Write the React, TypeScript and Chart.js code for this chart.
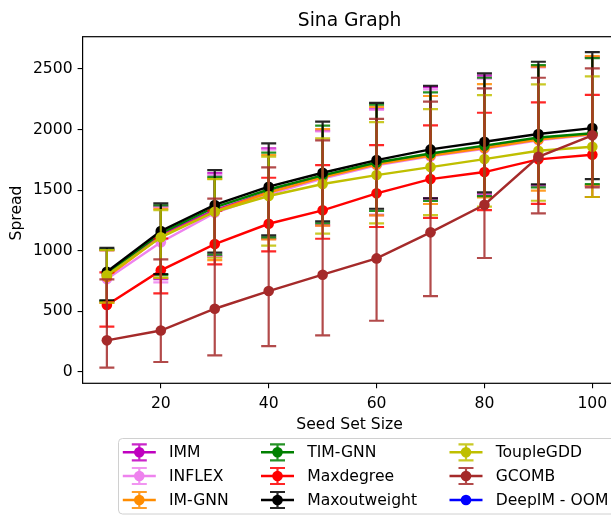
import React, { useEffect, useRef } from 'react';
import { Chart, registerables } from 'chart.js';

Chart.register(...registerables);

// ---------- data ----------
const seedSetSizes = [10, 20, 30, 40, 50, 60, 70, 80, 90, 100];
const xTickValues = [20, 40, 60, 80, 100];
const yTickValues = [0, 500, 1000, 1500, 2000, 2500];

const immMean = [798, 1132, 1335, 1485, 1608, 1716, 1788, 1852, 1922, 1964];
const immLow = [580, 765, 955, 1100, 1210, 1295, 1432, 1465, 1540, 1536];
const immHigh = [1008, 1366, 1640, 1845, 1990, 2168, 2350, 2445, 2518, 2597];

const inflexMean = [765, 1070, 1312, 1465, 1595, 1705, 1778, 1842, 1912, 1958];
const inflexLow = [575, 738, 950, 1095, 1206, 1291, 1425, 1455, 1530, 1536];
const inflexHigh = [1000, 1360, 1625, 1835, 1985, 2164, 2332, 2420, 2514, 2595];

const imgnnMean = [782, 1115, 1325, 1480, 1605, 1712, 1785, 1848, 1918, 1962];
const imgnnLow = [568, 776, 922, 1093, 1206, 1291, 1385, 1440, 1495, 1540];
const imgnnHigh = [1005, 1346, 1595, 1790, 2004, 2188, 2277, 2376, 2520, 2607];

const timgnnMean = [812, 1145, 1358, 1505, 1622, 1728, 1802, 1867, 1934, 1970];
const timgnnLow = [585, 798, 966, 1110, 1226, 1329, 1410, 1451, 1523, 1550];
const timgnnHigh = [1011, 1374, 1610, 1809, 2032, 2205, 2307, 2428, 2533, 2590];

const maxdegreeMean = [551, 837, 1054, 1222, 1333, 1473, 1591, 1649, 1754, 1792];
const maxdegreeLow = [372, 647, 887, 994, 1098, 1195, 1270, 1335, 1387, 1443];
const maxdegreeHigh = [821, 1100, 1330, 1602, 1707, 1872, 2035, 2139, 2225, 2287];

const maxoutweightMean = [826, 1162, 1377, 1528, 1643, 1748, 1836, 1899, 1963, 2012];
const maxoutweightLow = [590, 807, 983, 1126, 1242, 1346, 1432, 1481, 1547, 1591];
const maxoutweightHigh = [1024, 1391, 1665, 1886, 2065, 2221, 2362, 2464, 2560, 2640];

const toupleMean = [796, 1110, 1321, 1451, 1550, 1624, 1690, 1756, 1825, 1858];
const toupleLow = [570, 776, 941, 1041, 1140, 1225, 1294, 1363, 1412, 1443];
const toupleHigh = [1005, 1335, 1591, 1776, 1927, 2062, 2169, 2285, 2373, 2439];

const gcombMean = [259, 340, 520, 666, 801, 936, 1151, 1379, 1775, 1952];
const gcombLow = [33, 80, 135, 212, 300, 421, 625, 939, 1308, 1523];
const gcombHigh = [763, 928, 1429, 1688, 1911, 2089, 2230, 2340, 2428, 2505];

const deepimMean: number[] = [];
const deepimLow: number[] = [];
const deepimHigh: number[] = [];

const seriesNames = ['IMM', 'INFLEX', 'IM-GNN', 'TIM-GNN', 'Maxdegree', 'Maxoutweight', 'ToupleGDD', 'GCOMB', 'DeepIM - OOM'];
const seriesColors = ['#bf00bf', '#ee82ee', '#ff8c00', '#008000', '#ff0000', '#000000', '#bfbf00', '#a52a2a', '#0000ff'];
const seriesMeans = [immMean, inflexMean, imgnnMean, timgnnMean, maxdegreeMean, maxoutweightMean, toupleMean, gcombMean, deepimMean];
const seriesLows = [immLow, inflexLow, imgnnLow, timgnnLow, maxdegreeLow, maxoutweightLow, toupleLow, gcombLow, deepimLow];
const seriesHighs = [immHigh, inflexHigh, imgnnHigh, timgnnHigh, maxdegreeHigh, maxoutweightHigh, toupleHigh, gcombHigh, deepimHigh];

const FONT = "'DejaVu Sans', sans-serif";

function rgba(hex: string, a: number) {
  const n = parseInt(hex.slice(1), 16);
  return `rgba(${(n >> 16) & 255},${(n >> 8) & 255},${n & 255},${a})`;
}

const errorBarPlugin = {
  id: 'errorBars',
  beforeDatasetDraw(chart: any, args: any) {
    const ds: any = chart.data.datasets[args.index];
    if (!ds.errLow || !ds.errLow.length) return;
    const { ctx, chartArea } = chart;
    const xs = chart.scales.x;
    const ys = chart.scales.y;
    ctx.save();
    ctx.beginPath();
    ctx.rect(chartArea.left, chartArea.top, chartArea.right - chartArea.left, chartArea.bottom - chartArea.top);
    ctx.clip();
    ctx.strokeStyle = ds.errColor;
    ctx.lineWidth = 2.2;
    ds.data.forEach((p: any, i: number) => {
      const px = xs.getPixelForValue(p.x);
      const yl = ys.getPixelForValue(ds.errLow[i]);
      const yh = ys.getPixelForValue(ds.errHigh[i]);
      ctx.beginPath();
      ctx.moveTo(px, yl);
      ctx.lineTo(px, yh);
      ctx.moveTo(px - 7.5, yl);
      ctx.lineTo(px + 7.5, yl);
      ctx.moveTo(px - 7.5, yh);
      ctx.lineTo(px + 7.5, yh);
      ctx.stroke();
    });
    ctx.restore();
  },
};

const framePlugin = {
  id: 'frame',
  afterDatasetsDraw(chart: any) {
    const { ctx, chartArea } = chart;
    ctx.save();
    ctx.strokeStyle = '#000';
    ctx.lineWidth = 1.2;
    ctx.strokeRect(chartArea.left, chartArea.top, chartArea.right - chartArea.left, chartArea.bottom - chartArea.top);
    ctx.restore();
  },
};

const textPlugin = {
  id: 'texts',
  afterDraw(chart: any) {
    const { ctx, chartArea } = chart;
    const cx = (chartArea.left + chartArea.right) / 2;
    ctx.save();
    ctx.fillStyle = '#000';
    ctx.textAlign = 'center';
    ctx.textBaseline = 'alphabetic';
    ctx.font = `18.7px ${FONT}`;
    ctx.fillText('Sina Graph', cx, 26);
    ctx.font = `15.6px ${FONT}`;
    ctx.fillText('Seed Set Size', cx, 429);
    ctx.save();
    ctx.translate(17, (chartArea.top + chartArea.bottom) / 2 + 3);
    ctx.rotate(-Math.PI / 2);
    ctx.textBaseline = 'middle';
    ctx.fillText('Spread', 0, 0);
    ctx.restore();

    // legend
    ctx.beginPath();
    ctx.fillStyle = 'rgba(255,255,255,0.8)';
    ctx.strokeStyle = '#d0d0d0';
    ctx.lineWidth = 1;
    (ctx as any).roundRect(118.5, 438.5, 510, 75.5, 4);
    ctx.fill();
    ctx.stroke();
    const colX = [139.3, 277.5, 466];
    const rowY = [452.3, 476, 500];
    ctx.font = `15.6px ${FONT}`;
    ctx.textAlign = 'left';
    ctx.textBaseline = 'middle';
    seriesNames.forEach((name, i) => {
      const col = Math.floor(i / 3);
      const row = i % 3;
      const hx = colX[col];
      const hy = rowY[row];
      const color = seriesColors[i];
      ctx.strokeStyle = color;
      ctx.lineWidth = 2.4;
      ctx.beginPath();
      ctx.moveTo(hx - 16.5, hy);
      ctx.lineTo(hx + 16.5, hy);
      ctx.stroke();
      if (seriesLows[i].length) {
        ctx.strokeStyle = rgba(color, 0.85);
        ctx.lineWidth = 2.2;
        ctx.beginPath();
        ctx.moveTo(hx, hy - 8);
        ctx.lineTo(hx, hy + 8);
        ctx.moveTo(hx - 7.5, hy - 8);
        ctx.lineTo(hx + 7.5, hy - 8);
        ctx.moveTo(hx - 7.5, hy + 8);
        ctx.lineTo(hx + 7.5, hy + 8);
        ctx.stroke();
      }
      ctx.fillStyle = color;
      ctx.beginPath();
      ctx.arc(hx, hy, 5.3, 0, Math.PI * 2);
      ctx.fill();
      ctx.fillStyle = '#000';
      ctx.fillText(name, hx + 29.7, hy + 1);
    });
    ctx.restore();
  },
};

export default function App() {
  const canvasRef = useRef<HTMLCanvasElement | null>(null);

  useEffect(() => {
    if (!canvasRef.current) return;
    const n = seriesNames.length;
    const datasets = seriesNames.map((name, i) => ({
      label: name,
      data: seriesMeans[i].map((y, j) => ({ x: seedSetSizes[j], y })),
      borderColor: seriesColors[i],
      backgroundColor: seriesColors[i],
      borderWidth: 2.4,
      pointRadius: 5.3,
      pointHoverRadius: 5.3,
      pointBorderWidth: 0,
      pointBackgroundColor: seriesColors[i],
      tension: 0,
      fill: false,
      order: n - i,
      errLow: seriesLows[i],
      errHigh: seriesHighs[i],
      errColor: rgba(seriesColors[i], 0.85),
    }));

    const tickFont = { family: FONT, size: 15.6 };
    const chart = new Chart(canvasRef.current, {
      type: 'line',
      data: { datasets: datasets as any },
      plugins: [errorBarPlugin, framePlugin, textPlugin],
      options: {
        responsive: false,
        animation: false,
        devicePixelRatio: 1,
        events: [],
        layout: { padding: { left: 0, top: 36.7, right: 43.4, bottom: 101.7 } },
        plugins: {
          legend: { display: false },
          title: { display: false },
          tooltip: { enabled: false },
        },
        scales: {
          x: {
            type: 'linear',
            min: 5.5,
            max: 104.5,
            afterBuildTicks: (scale: any) => {
              scale.ticks = xTickValues.map((v) => ({ value: v }));
            },
            afterFit: (scale: any) => {
              scale.height = 30;
            },
            grid: { display: true, drawOnChartArea: false, drawTicks: true, tickLength: 5, color: '#000', lineWidth: 1.1 },
            border: { display: false },
            ticks: { color: '#000', font: tickFont, padding: 6, maxRotation: 0, autoSkip: false, callback: (v: any) => String(v) },
          },
          y: {
            type: 'linear',
            min: -95.8,
            max: 2767,
            afterBuildTicks: (scale: any) => {
              scale.ticks = yTickValues.map((v) => ({ value: v }));
            },
            afterFit: (scale: any) => {
              scale.width = 82.6;
            },
            grid: { display: true, drawOnChartArea: false, drawTicks: true, tickLength: 5, color: '#000', lineWidth: 1.1 },
            border: { display: false },
            ticks: { color: '#000', font: tickFont, padding: 5, autoSkip: false, callback: (v: any) => String(v) },
          },
        },
      } as any,
    });
    return () => chart.destroy();
  }, []);

  return (
    <div style={{ position: 'fixed', left: 0, top: 0, width: 611, height: 515, overflow: 'hidden', background: '#fff' }}>
      <canvas ref={canvasRef} width={660} height={515} style={{ display: 'block' }} />
    </div>
  );
}
